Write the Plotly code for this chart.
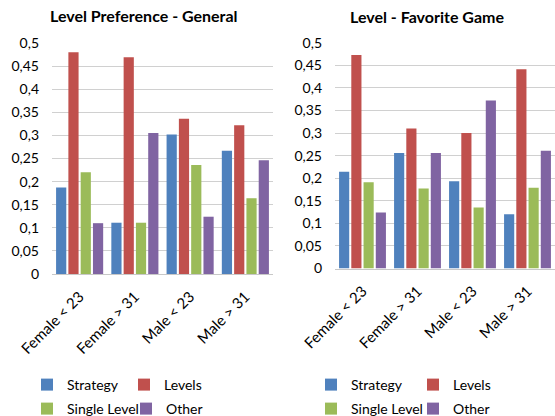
import plotly.graph_objects as go

categories = ["Female < 23", "Female > 31", "Male < 23", "Male > 31"]
series_names = ["Strategy", "Levels", "Single Level", "Other"]
series_colors = ["#4F81BD", "#C0504D", "#9BBB59", "#8064A2"]

general_strategy = [0.187, 0.111, 0.302, 0.267]
general_levels = [0.480, 0.469, 0.336, 0.322]
general_single = [0.220, 0.111, 0.236, 0.164]
general_other = [0.110, 0.305, 0.124, 0.246]

fav_strategy = [0.214, 0.256, 0.193, 0.120]
fav_levels = [0.473, 0.310, 0.300, 0.441]
fav_single = [0.191, 0.177, 0.135, 0.179]
fav_other = [0.124, 0.256, 0.372, 0.261]

y_tick_values = [0, 0.05, 0.1, 0.15, 0.2, 0.25, 0.3, 0.35, 0.4, 0.45, 0.5]
y_tick_labels = ["0", "0,05", "0,1", "0,15", "0,2", "0,25", "0,3", "0,35", "0,4", "0,45", "0,5"]

titles = ["Level Preference - General", "Level - Favorite Game"]

W, H = 555, 416
FONT = "Lato"

fig = go.Figure()

general = [general_strategy, general_levels, general_single, general_other]
fav = [fav_strategy, fav_levels, fav_single, fav_other]

# legend text positions (px) per panel: (x_text_start, y_center)
legend_pos = [
    [(67, 385), (164, 385), (67, 409), (166, 409)],
    [(351, 385), (453, 385), (351, 409), (453, 409)],
]

n = 0
for p, data in enumerate([general, fav]):
    for i, vals in enumerate(data):
        n += 1
        lname = "legend" if n == 1 else f"legend{n}"
        fig.add_trace(go.Bar(
            x=categories, y=vals, name=series_names[i],
            marker=dict(color=series_colors[i], line=dict(width=0)),
            xaxis="x" if p == 0 else "x2",
            yaxis="y" if p == 0 else "y2",
            legend=lname,
        ))
        tx, ty = legend_pos[p][i]
        fig.update_layout(**{lname: dict(
            x=(tx - 40) / W, y=1 - ty / H, xanchor="left", yanchor="middle",
            orientation="h", font=dict(family=FONT, size=14, color="#000000"),
            bgcolor="rgba(0,0,0,0)", borderwidth=0,
        )})

axis_common_y = dict(
    range=[0, 0.5], tickvals=y_tick_values, ticktext=y_tick_labels,
    showgrid=True, gridcolor="#D0D0D0", gridwidth=1, zeroline=False,
    showline=False, ticks="", ticklabelstandoff=12, automargin=False,
    tickfont=dict(family=FONT, size=14, color="#000000"), fixedrange=True,
)
axis_common_x = dict(
    type="category", range=[-0.5, 3.5], showgrid=False, zeroline=False,
    showline=True, linecolor="#C8C8C8", linewidth=1, ticks="", automargin=False,
    tickangle=-45, ticklabelstandoff=7,
    tickfont=dict(family=FONT, size=15, color="#000000"),
    fixedrange=True,
)

fig.update_layout(
    width=W, height=H,
    margin=dict(l=0, r=0, t=0, b=0, autoexpand=False),
    paper_bgcolor="white", plot_bgcolor="white",
    barmode="group", bargap=0.11, bargroupgap=0.17,
    xaxis=dict(domain=[52 / W, 273 / W], anchor="y", **axis_common_x),
    yaxis=dict(domain=[1 - 274 / H, 1 - 43 / H], anchor="x", **axis_common_y),
    xaxis2=dict(domain=[335 / W, 1.0], anchor="y2", **axis_common_x),
    yaxis2=dict(domain=[1 - 268.5 / H, 1 - 42.7 / H], anchor="x2", **axis_common_y),
    showlegend=True,
    annotations=[
        dict(text="<b>%s</b>" % titles[0], x=144 / W, y=1 - 16 / H, xref="paper", yref="paper",
             xanchor="center", yanchor="middle", showarrow=False,
             font=dict(family=FONT, size=16, color="#000000")),
        dict(text="<b>%s</b>" % titles[1], x=427 / W, y=1 - 17 / H, xref="paper", yref="paper",
             xanchor="center", yanchor="middle", showarrow=False,
             font=dict(family=FONT, size=16, color="#000000")),
    ],
)

fig.write_html("out.html")
